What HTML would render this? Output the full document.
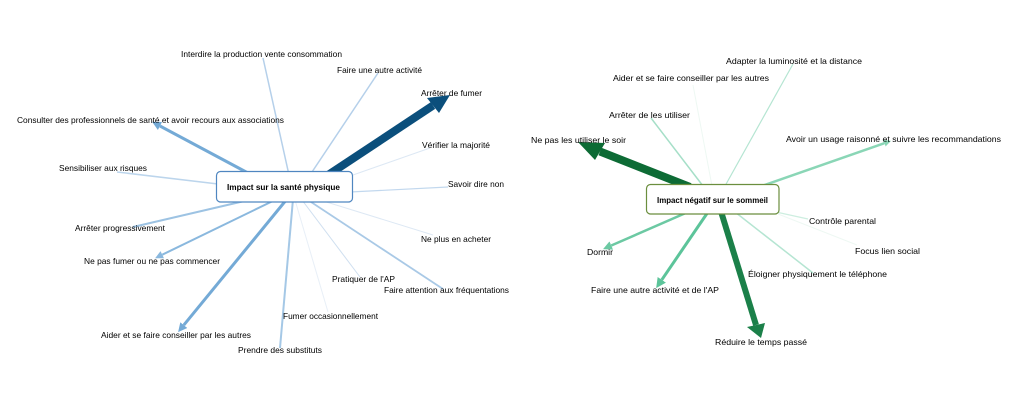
<!DOCTYPE html>
<html>
<head>
<meta charset="utf-8">
<style>
html,body{margin:0;padding:0;background:#ffffff;}
svg{display:block;}
text{font-family:"Liberation Sans",Arial,sans-serif;font-size:8.5px;fill:#000000;}
.b{font-weight:bold;fill:#000;font-size:8px;}
</style>
</head>
<body>
<svg width="1024" height="411" viewBox="0 0 1024 411" xmlns="http://www.w3.org/2000/svg">
<defs>
  <marker id="mb" viewBox="0 0 10 10" refX="0" refY="5" markerWidth="9" markerHeight="9" markerUnits="userSpaceOnUse" orient="auto">
    <path d="M0,0 L10,5 L0,10 z" fill="#74aad6"/>
  </marker>
  <marker id="mb2" viewBox="0 0 10 10" refX="0" refY="5" markerWidth="8" markerHeight="8" markerUnits="userSpaceOnUse" orient="auto">
    <path d="M0,0 L10,5 L0,10 z" fill="#8ab8de"/>
  </marker>
  <marker id="mg" viewBox="0 0 10 10" refX="0" refY="5" markerWidth="10" markerHeight="10" markerUnits="userSpaceOnUse" orient="auto">
    <path d="M0,0 L10,5 L0,10 z" fill="#5cc49a"/>
  </marker>
  <marker id="mg2" viewBox="0 0 10 10" refX="0" refY="5" markerWidth="9" markerHeight="9" markerUnits="userSpaceOnUse" orient="auto">
    <path d="M0,0 L10,5 L0,10 z" fill="#6cc9a3"/>
  </marker>
  <marker id="mg3" viewBox="0 0 10 10" refX="0" refY="5" markerWidth="7" markerHeight="7" markerUnits="userSpaceOnUse" orient="auto">
    <path d="M0,0 L10,5 L0,10 z" fill="#8ad6b6"/>
  </marker>
</defs>

<!-- LEFT GRAPH EDGES -->
<g fill="none" stroke-linecap="butt">
  <line x1="295" y1="200" x2="328" y2="312" stroke="#e8eff7" stroke-width="1"/>
  <line x1="353" y1="175" x2="430" y2="148" stroke="#dde8f4" stroke-width="1"/>
  <line x1="320" y1="200" x2="433" y2="235" stroke="#dde8f4" stroke-width="1"/>
  <line x1="302" y1="200" x2="360" y2="277" stroke="#cfdff0" stroke-width="1"/>
  <line x1="350" y1="192" x2="448" y2="187" stroke="#c2d8ee" stroke-width="1.2"/>
  <line x1="289" y1="175" x2="263" y2="58" stroke="#b5d0ea" stroke-width="1.5"/>
  <line x1="310" y1="175" x2="378" y2="73" stroke="#b5d0ea" stroke-width="1.5"/>
  <line x1="218" y1="184" x2="117" y2="172" stroke="#bcd5ec" stroke-width="1.5"/>
  <line x1="308" y1="200" x2="443" y2="289" stroke="#a9c9e6" stroke-width="1.8"/>
  <line x1="253" y1="199" x2="133" y2="227" stroke="#9dc3e3" stroke-width="2"/>
  <line x1="293" y1="199" x2="280" y2="348" stroke="#a5c8e6" stroke-width="2"/>
  <line x1="277" y1="199" x2="162.3" y2="254.7" stroke="#8ab8de" stroke-width="2" marker-end="url(#mb2)"/>
  <line x1="287" y1="199" x2="183.8" y2="325.1" stroke="#74aad6" stroke-width="3" marker-end="url(#mb)"/>
  <line x1="248" y1="173" x2="160" y2="126" stroke="#74aad6" stroke-width="3" marker-end="url(#mb)"/>
  <line x1="322" y1="179" x2="433" y2="105.5" stroke="#0b4f7c" stroke-width="8"/>
  <polygon points="450,95 427,98 439,113" fill="#0b4f7c"/>
</g>

<!-- RIGHT GRAPH EDGES -->
<g fill="none" stroke-linecap="butt">
  <line x1="712" y1="186" x2="693" y2="85" stroke="#eef8f3" stroke-width="1"/>
  <line x1="778" y1="214" x2="857" y2="245" stroke="#eef8f3" stroke-width="1"/>
  <line x1="776" y1="212" x2="808" y2="219" stroke="#cdeee0" stroke-width="1.2"/>
  <line x1="725" y1="186" x2="793" y2="64" stroke="#b5e5d2" stroke-width="1.2"/>
  <line x1="735" y1="212" x2="813" y2="273" stroke="#b5e5d2" stroke-width="1.5"/>
  <line x1="703" y1="186" x2="651" y2="118" stroke="#a6dfc8" stroke-width="1.5"/>
  <line x1="762" y1="186" x2="884.4" y2="143.2" stroke="#8ad6b6" stroke-width="2.5" marker-end="url(#mg3)"/>
  <line x1="688" y1="212" x2="611.3" y2="245.5" stroke="#6cc9a3" stroke-width="2.5" marker-end="url(#mg2)"/>
  <line x1="708" y1="212" x2="661.8" y2="279.8" stroke="#5cc49a" stroke-width="3" marker-end="url(#mg)"/>
  <line x1="719" y1="205" x2="756" y2="325" stroke="#1b8049" stroke-width="6"/>
  <polygon points="761,338 747,327 765,323" fill="#1b8049"/>
  <line x1="690" y1="187" x2="600" y2="151.5" stroke="#0d6b35" stroke-width="8"/>
  <polygon points="578,142 605,143 595,160" fill="#0d6b35"/>
</g>

<!-- BOXES -->
<rect x="216.5" y="171.5" width="136" height="30.5" rx="4" ry="4" fill="#ffffff" stroke="#4f86c0" stroke-width="1.2"/>
<text class="b" x="227" y="190" textLength="113" lengthAdjust="spacingAndGlyphs">Impact sur la santé physique</text>
<rect x="646.5" y="184.5" width="132.5" height="29.5" rx="4" ry="4" fill="#ffffff" stroke="#6b8e3e" stroke-width="1.2"/>
<text class="b" x="657" y="203" textLength="111" lengthAdjust="spacingAndGlyphs">Impact négatif sur le sommeil</text>

<!-- LEFT LABELS -->
<g>
  <text x="181" y="57" textLength="161" lengthAdjust="spacingAndGlyphs">Interdire la production vente consommation</text>
  <text x="337" y="73" textLength="85" lengthAdjust="spacingAndGlyphs">Faire une autre activité</text>
  <text x="421" y="96" textLength="61" lengthAdjust="spacingAndGlyphs">Arrêter de fumer</text>
  <text x="17" y="123" textLength="267" lengthAdjust="spacingAndGlyphs">Consulter des professionnels de santé et avoir recours aux associations</text>
  <text x="422" y="148" textLength="68" lengthAdjust="spacingAndGlyphs">Vérifier la majorité</text>
  <text x="59" y="171" textLength="88" lengthAdjust="spacingAndGlyphs">Sensibiliser aux risques</text>
  <text x="448" y="187" textLength="56" lengthAdjust="spacingAndGlyphs">Savoir dire non</text>
  <text x="75" y="231" textLength="90" lengthAdjust="spacingAndGlyphs">Arrêter progressivement</text>
  <text x="84" y="264" textLength="136" lengthAdjust="spacingAndGlyphs">Ne pas fumer ou ne pas commencer</text>
  <text x="421" y="242" textLength="70" lengthAdjust="spacingAndGlyphs">Ne plus en acheter</text>
  <text x="332" y="282" textLength="63" lengthAdjust="spacingAndGlyphs">Pratiquer de l'AP</text>
  <text x="384" y="293" textLength="125" lengthAdjust="spacingAndGlyphs">Faire attention aux fréquentations</text>
  <text x="283" y="319" textLength="95" lengthAdjust="spacingAndGlyphs">Fumer occasionnellement</text>
  <text x="101" y="338" textLength="150" lengthAdjust="spacingAndGlyphs">Aider et se faire conseiller par les autres</text>
  <text x="238" y="353" textLength="84" lengthAdjust="spacingAndGlyphs">Prendre des substituts</text>
</g>

<!-- RIGHT LABELS -->
<g>
  <text x="726" y="64" textLength="136" lengthAdjust="spacingAndGlyphs">Adapter la luminosité et la distance</text>
  <text x="613" y="81" textLength="156" lengthAdjust="spacingAndGlyphs">Aider et se faire conseiller par les autres</text>
  <text x="609" y="118" textLength="81" lengthAdjust="spacingAndGlyphs">Arrêter de les utiliser</text>
  <text x="531" y="143" textLength="95" lengthAdjust="spacingAndGlyphs">Ne pas les utiliser le soir</text>
  <text x="786" y="142" textLength="215" lengthAdjust="spacingAndGlyphs">Avoir un usage raisonné et suivre les recommandations</text>
  <text x="809" y="224" textLength="67" lengthAdjust="spacingAndGlyphs">Contrôle parental</text>
  <text x="587" y="255" textLength="26" lengthAdjust="spacingAndGlyphs">Dormir</text>
  <text x="855" y="254" textLength="65" lengthAdjust="spacingAndGlyphs">Focus lien social</text>
  <text x="748" y="277" textLength="139" lengthAdjust="spacingAndGlyphs">Éloigner physiquement le téléphone</text>
  <text x="591" y="293" textLength="128" lengthAdjust="spacingAndGlyphs">Faire une autre activité et de l'AP</text>
  <text x="715" y="345" textLength="92" lengthAdjust="spacingAndGlyphs">Réduire le temps passé</text>
</g>
</svg>
</body>
</html>
